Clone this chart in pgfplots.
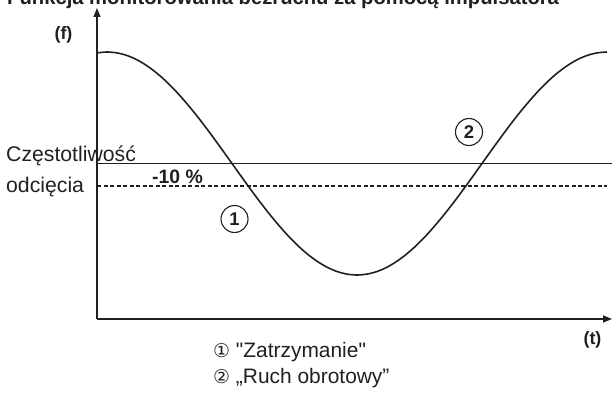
\documentclass[border=0pt]{standalone}
\usepackage{pgfplots}
\pgfplotsset{compat=1.18}
\usepackage{fontspec}
\setmainfont{Liberation Sans}
\newfontfamily\symfont{DejaVu Sans}
\newfontfamily\quotefont{Liberation Sans}
\usetikzlibrary{arrows.meta}
\definecolor{ink}{HTML}{231F20}

\begin{document}
\begin{tikzpicture}[x=1bp,y=1bp]
\useasboundingbox (0,0) rectangle (612,396);
\clip (0,0) rectangle (612,396);

\begin{axis}[
  at={(97bp,77bp)}, anchor=south west,
  x=1bp, y=1bp,
  xmin=97, xmax=612, ymin=77, ymax=388,
  axis lines=left,
  axis line style={ink, line width=1.5bp, -{Triangle[length=9bp,width=7bp]}},
  xtick=\empty, ytick=\empty,
  clip=false,
]
% cut-off frequency and the -10 % threshold
\addplot[ink, line width=1.5bp] coordinates {(97,232.5) (612,232.5)};
\addplot[ink, line width=1.3bp, dash pattern=on 4bp off 2.5bp] coordinates {(97,210) (607,210)};
% encoder frequency over time
\addplot[ink, line width=1.6bp, smooth] coordinates {
 (97,343.1) (107,344.0) (117,343.1) (127,340.5) (137,336.2) (147,330.2)
 (157,322.7) (167,313.8) (177,303.6) (187,292.2) (197,280.0) (207,267.0)
 (217,253.4) (227,239.5) (237,225.5) (247,211.6) (257,198.0) (267,185.0)
 (277,172.8) (287,161.4) (297,151.2) (307,142.3) (317,134.8) (327,128.8)
 (337,124.5) (347,121.9) (357,121.0) (367,121.9) (377,124.5) (387,128.8)
 (397,134.8) (407,142.3) (417,151.2) (427,161.4) (437,172.8) (447,185.0)
 (457,198.0) (467,211.6) (477,225.5) (487,239.5) (497,253.4) (507,267.0)
 (517,280.0) (527,292.2) (537,303.6) (547,313.8) (557,322.7) (567,330.2)
 (577,336.2) (587,340.5) (597,343.1) (607,344.0)
};
\end{axis}

% title
\node[anchor=base west, inner sep=0, font=\fontsize{20.3}{24}\selectfont\bfseries, text=ink]
  at (7,391.5) {Funkcja monitorowania bezruchu za pomocą impulsatora};
% axis names
\node[inner sep=0, font=\fontsize{18}{20}\selectfont\bfseries, text=ink] at (63.5,361) {(f)};
\node[inner sep=0, font=\fontsize{18}{20}\selectfont\bfseries, text=ink] at (592.5,56.5) {(t)};
% threshold labels
\node[anchor=base west, inner sep=0, font=\fontsize{21.3}{24}\selectfont, text=ink] at (6,235) {Częstotliwość};
\node[anchor=base west, inner sep=0, font=\fontsize{21.3}{24}\selectfont, text=ink] at (6,204) {odcięcia};
\node[anchor=base, inner sep=0, font=\fontsize{19.5}{22}\selectfont\bfseries, text=ink] at (177.5,213) {-10 \%};
% state markers
\node[circle, draw=ink, line width=1.1bp, minimum size=27bp, inner sep=0,
  font=\fontsize{18.5}{20}\selectfont\bfseries, text=ink] at (234.5,177) {1};
\node[circle, draw=ink, line width=1.1bp, minimum size=27bp, inner sep=0,
  font=\fontsize{18.5}{20}\selectfont\bfseries, text=ink] at (469,264) {2};
% key
\node[anchor=base west, inner sep=0, font=\fontsize{21}{24}\selectfont, text=ink]
  at (213,39) {{\symfont\fontsize{19}{22}\selectfont ①} {\quotefont"}Zatrzymanie{\quotefont"}};
\node[anchor=base west, inner sep=0, font=\fontsize{21}{24}\selectfont, text=ink]
  at (213,13) {{\symfont\fontsize{19}{22}\selectfont ②} „Ruch obrotowy”};
\end{tikzpicture}
\end{document}
